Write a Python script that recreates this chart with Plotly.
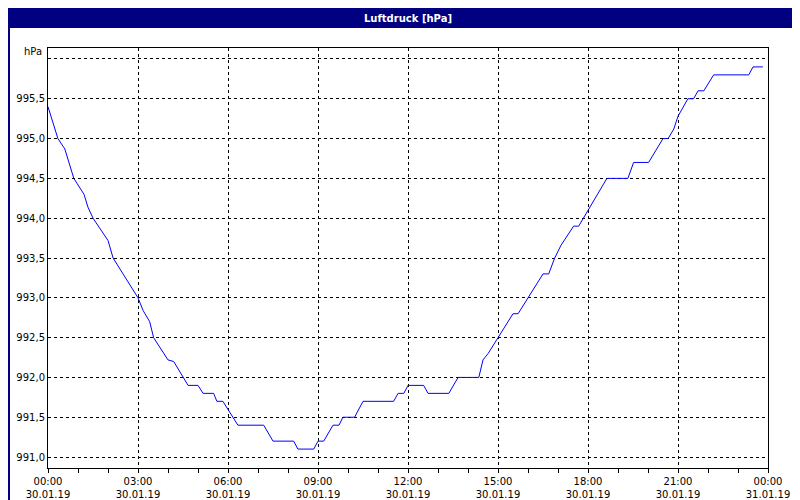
import plotly.graph_objects as go

hours = [0, 0.33, 0.56, 0.86, 1.2, 1.33, 1.5, 2.0, 2.17, 3.0, 3.17, 3.39, 3.52, 4.0, 4.19, 4.67, 5.0, 5.17,
         5.52, 5.63, 5.83, 6.33, 7.19, 7.5, 8.19, 8.33, 8.86, 9.0, 9.19, 9.5, 9.7, 9.83, 10.22, 10.5, 11.52,
         11.67, 11.86, 12.0, 12.52, 12.67, 13.36, 13.67, 14.36, 14.5, 14.67, 15.0, 15.5, 15.67, 16.0, 16.5,
         16.69, 16.89, 17.1, 17.52, 17.69, 18.0, 18.63, 19.33, 19.52, 20.02, 20.5, 20.67, 20.86, 21.0, 21.33,
         21.52, 21.67, 21.86, 22.19, 23.36, 23.5, 23.83]
pressure = [995.4, 995.0, 994.87, 994.5, 994.3, 994.14, 994.0, 993.72, 993.5, 993.0, 992.84, 992.7, 992.5,
            992.22, 992.2, 991.9, 991.9, 991.8, 991.8, 991.7, 991.7, 991.4, 991.4, 991.2, 991.2, 991.1, 991.1,
            991.2, 991.2, 991.4, 991.4, 991.5, 991.5, 991.7, 991.7, 991.8, 991.8, 991.9, 991.9, 991.8, 991.8,
            992.0, 992.0, 992.22, 992.3, 992.5, 992.8, 992.8, 993.0, 993.3, 993.3, 993.5, 993.66, 993.9, 993.9,
            994.1, 994.5, 994.5, 994.7, 994.7, 995.0, 995.0, 995.12, 995.28, 995.5, 995.5, 995.6, 995.6, 995.8,
            995.8, 995.9, 995.9]
x_ticks = [0, 3, 6, 9, 12, 15, 18, 21, 24]
x_labels = ["00:00<br>30.01.19", "03:00<br>30.01.19", "06:00<br>30.01.19", "09:00<br>30.01.19",
            "12:00<br>30.01.19", "15:00<br>30.01.19", "18:00<br>30.01.19", "21:00<br>30.01.19",
            "00:00<br>31.01.19"]
y_ticks = [991.0, 991.5, 992.0, 992.5, 993.0, 993.5, 994.0, 994.5, 995.0, 995.5, 996.0]
y_labels = ["991,0", "991,5", "992,0", "992,5", "993,0", "993,5", "994,0", "994,5", "995,0", "995,5", ""]
title = "Luftdruck [hPa]"

navy = "#000080"
font = dict(family="DejaVu Sans", size=10, color="black")
fig = go.Figure(go.Scatter(x=hours, y=pressure, mode="lines", line=dict(color="#0000ff", width=1),
                           hoverinfo="skip"))
fig.update_layout(
    width=800, height=500, margin=dict(l=40, r=40, t=40, b=40, autoexpand=False),
    paper_bgcolor="white", plot_bgcolor="white", showlegend=False, font=font,
    xaxis=dict(range=[0, 24], tickvals=x_ticks, ticktext=x_labels, showgrid=True, gridcolor="black",
               griddash="3px,3px", gridwidth=1, showline=True, linecolor="black", mirror=True, linewidth=1,
               ticks="outside", ticklen=4, tickcolor="black", zeroline=False, automargin=False,
               minor=dict(dtick=1, tick0=0, ticks="outside", ticklen=4, tickcolor="black", showgrid=False)),
    yaxis=dict(range=[990.8625, 996.1375], tickvals=y_ticks, ticktext=y_labels, showgrid=True,
               gridcolor="black", griddash="3px,3px", gridwidth=1, showline=True, linecolor="black",
               mirror=True, linewidth=1, ticks="", zeroline=False, automargin=False),
    shapes=[
        dict(type="rect", xref="paper", yref="paper", x0=-40/720, x1=1+40/720, y0=1+20/420, y1=1+40/420,
             fillcolor=navy, line=dict(width=0), layer="above"),
        dict(type="rect", xref="paper", yref="paper", x0=-39/720, x1=1+39/720, y0=-39/420, y1=1+39/420,
             fillcolor="rgba(0,0,0,0)", line=dict(color=navy, width=2)),
    ],
    annotations=[
        dict(text="<b>" + title + "</b>", xref="paper", yref="paper", x=0.5, y=1+30/420, showarrow=False,
             font=dict(family="DejaVu Sans", size=10, color="white"), yanchor="middle"),
        dict(text="hPa", xref="paper", yref="paper", x=-4/720, y=1-4/420, showarrow=False, xanchor="right",
             yanchor="middle", font=font),
    ],
)
fig.write_html("out.html")
